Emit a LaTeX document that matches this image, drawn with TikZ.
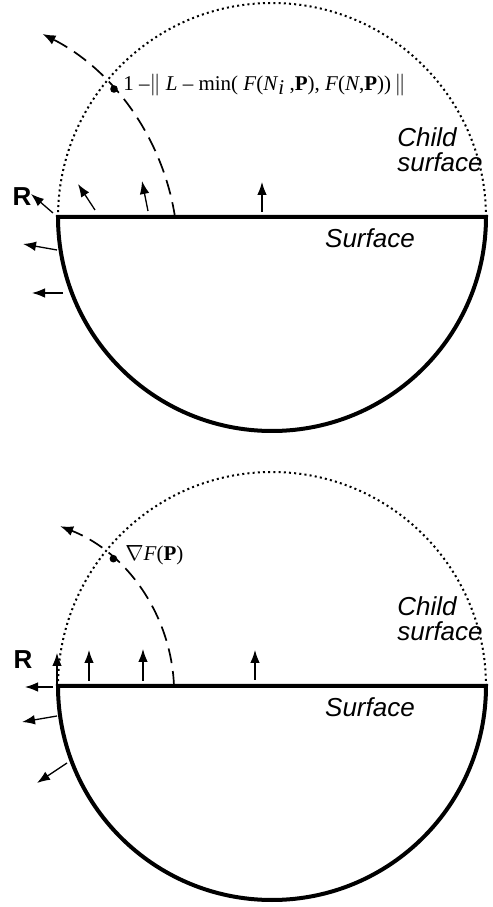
\documentclass[tikz,border=0pt]{standalone}
\usepackage{fontspec}
\setmainfont{Liberation Serif}
\setsansfont{Liberation Sans}
\usepackage{tikz}
\usetikzlibrary{arrows.meta}
\definecolor{ink}{HTML}{000000}
\tikzset{
  surf/.style={draw=ink,line width=2pt,line join=miter},
  child/.style={draw=ink,line width=1pt,dash pattern=on 1pt off 1.6pt},
  trail/.style={draw=ink,line width=0.85pt,dash pattern=on 7.5pt off 4pt,
    -{Latex[length=6.5pt,width=5pt]}},
  nrm/.style={draw=ink,line width=0.65pt,-{Latex[length=6.5pt,width=4.8pt]}},
  tag/.style={font=\sffamily\itshape\fontsize{13}{12.5}\selectfont,align=left,inner sep=0pt},
  rlbl/.style={font=\sffamily\bfseries\fontsize{13}{14}\selectfont,inner sep=0pt},
  eqn/.style={font=\fontsize{10.5}{12}\selectfont,inner sep=0pt,anchor=west},
  spot/.style={circle,fill=ink,inner sep=0pt,minimum size=3.8pt},
}
% one half-ball: surface, lower boundary and dotted child surface
\newcommand{\halfball}[1]{%
  \draw[child] (214,0) arc[start angle=0,end angle=180,radius=214];
  \draw[surf] (-214,0) arc[start angle=180,end angle=360,radius=214] -- cycle;
  \node[tag,anchor=west] (#1child) at (125,67) {Child\\surface};
  \node[tag] (#1surf) at (98,-21) {Surface};
}

\begin{document}
\begin{tikzpicture}[x=0.5pt,y=0.5pt,text=ink]
\useasboundingbox (0,0) rectangle (493,907);
% upper panel
\begin{scope}[shift={(272,690)}]
  \halfball{a}
  \foreach \ax/\ay/\bx/\by in {-219/4/-241/23, -177/7/-194/33, -124/6/-130/36,
      -10/5/-10/35, -215/-33/-249/-27, -209/-76/-240/-76}
    \draw[nrm] (\ax,\ay) -- (\bx,\by);
  \draw[trail] (-97,0) arc[start angle=8.8,end angle=63,radius=248];
  \node[spot] (adot) at (-158,128) {};
  \node[eqn] (aeq) at (-149,132) {1 –\(\|\) \textit{L} – min( \textit{F}(\textit{N}\raisebox{-0.45ex}{\textit{i}} ,\textbf{P}), \textit{F}(\textit{N},\textbf{P}))\,\(\|\)};
  \node[rlbl] (ar) at (-250,20) {R};
\end{scope}
% lower panel
\begin{scope}[shift={(272,221)}]
  \halfball{b}
  \foreach \ax/\ay/\bx/\by in {-215/-1/-215/33, -183/5/-183/36, -129/5/-129/37,
      -17/6/-17/36, -219/-1/-247/-1, -215/-30/-250/-36, -205/-77/-235/-97}
    \draw[nrm] (\ax,\ay) -- (\bx,\by);
  \draw[trail] (-98,0) arc[start angle=2.24,end angle=68.7,radius=179];
  \node[spot] (bdot) at (-158.6,127.3) {};
  \node[eqn] (beq) at (-147,131) {\(\nabla\)\textit{F}(\textbf{P})};
  \node[rlbl] (br) at (-249,26) {R};
\end{scope}
\end{tikzpicture}
\end{document}
